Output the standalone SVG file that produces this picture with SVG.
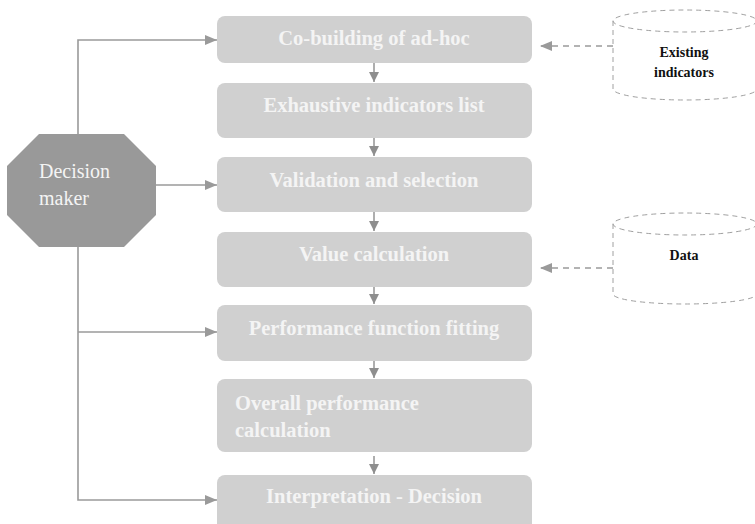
<svg xmlns="http://www.w3.org/2000/svg" width="755" height="524" viewBox="0 0 755 524">
<defs>
<style>
.box{fill:#d0d0d0;}
.bt{font-family:"Liberation Serif","Times New Roman",serif;font-weight:bold;font-size:20.5px;fill:#f4f4f4;text-anchor:middle;}
.btl{font-family:"Liberation Serif","Times New Roman",serif;font-weight:bold;font-size:20.5px;fill:#f4f4f4;}
.ln{stroke:#9a9a9a;stroke-width:1.6;fill:none;}
.dl{stroke:#9a9a9a;stroke-width:1.6;fill:none;stroke-dasharray:6 5;}
.cyl{stroke:#a0a0a0;stroke-width:1;fill:none;stroke-dasharray:5 4;}
.ct{font-family:"Liberation Serif","Times New Roman",serif;font-weight:bold;font-size:14px;fill:#111;text-anchor:middle;}
.dm{font-family:"Liberation Serif","Times New Roman",serif;font-size:20px;fill:#f4f4f4;}
</style>
<marker id="ah" markerWidth="12" markerHeight="10" refX="12" refY="5" orient="auto" markerUnits="userSpaceOnUse">
<path d="M0,0 L12,5 L0,10 Z" fill="#9a9a9a"/>
</marker>
<marker id="ahs" markerWidth="10" markerHeight="10" refX="10" refY="5" orient="auto" markerUnits="userSpaceOnUse">
<path d="M0,0 L10,5 L0,10 Z" fill="#8e8e8e"/>
</marker>
</defs>

<g id="connectors">
<path class="ln" d="M78,134 V40 H217" marker-end="url(#ah)"/>
<path class="ln" d="M156,185 H217" marker-end="url(#ah)"/>
<path class="ln" d="M78,247 V500 H217" marker-end="url(#ah)"/>
<path class="ln" d="M78,332 H217" marker-end="url(#ah)"/>
<path class="ln" d="M374,63 V82" marker-end="url(#ahs)"/>
<path class="ln" d="M374,138 V156" marker-end="url(#ahs)"/>
<path class="ln" d="M374,212 V231" marker-end="url(#ahs)"/>
<path class="ln" d="M374,287 V304" marker-end="url(#ahs)"/>
<path class="ln" d="M374,361 V378" marker-end="url(#ahs)"/>
<path class="ln" d="M374,456 V474" marker-end="url(#ahs)"/>
<path class="dl" d="M613,46 H540" marker-end="url(#ah)"/>
<path class="dl" d="M613,268 H540" marker-end="url(#ah)"/>
</g>

<g id="decision-maker">
<polygon points="39,134 124,134 156,166 156,215 124,247 39,247 7,215 7,166" fill="#999999"/>
<text class="dm" x="39" y="178">Decision</text>
<text class="dm" x="39" y="205">maker</text>
</g>

<g id="co-building">
<rect class="box" x="217" y="16" width="315" height="47" rx="8"/>
<text class="bt" x="374" y="45">Co-building of ad-hoc</text>
</g>
<g id="exhaustive">
<rect class="box" x="217" y="83" width="315" height="55" rx="8"/>
<text class="bt" x="374" y="112">Exhaustive indicators list</text>
</g>
<g id="validation">
<rect class="box" x="217" y="157" width="315" height="55" rx="8"/>
<text class="bt" x="374" y="187">Validation and selection</text>
</g>
<g id="value-calculation">
<rect class="box" x="217" y="232" width="315" height="55" rx="8"/>
<text class="bt" x="374" y="261">Value calculation</text>
</g>
<g id="performance-function">
<rect class="box" x="217" y="305" width="315" height="56" rx="8"/>
<text class="bt" x="374" y="335">Performance function fitting</text>
</g>
<g id="overall-performance">
<rect class="box" x="217" y="379" width="315" height="73" rx="8"/>
<text class="btl" x="235" y="410">Overall performance</text>
<text class="btl" x="235" y="437">calculation</text>
</g>
<g id="interpretation">
<rect class="box" x="217" y="475" width="315" height="58" rx="8"/>
<text class="bt" x="374" y="503">Interpretation - Decision</text>
</g>

<g id="existing-indicators">
<ellipse class="cyl" cx="685" cy="21" rx="72" ry="11"/>
<path class="cyl" d="M613,21 V89 A72,11 0 0 0 757,89"/>
<text class="ct" x="684" y="57">Existing</text>
<text class="ct" x="684" y="77">indicators</text>
</g>
<g id="data">
<ellipse class="cyl" cx="685" cy="224" rx="72" ry="11"/>
<path class="cyl" d="M613,224 V294 A72,10 0 0 0 757,294"/>
<text class="ct" x="684" y="260">Data</text>
</g>
</svg>
